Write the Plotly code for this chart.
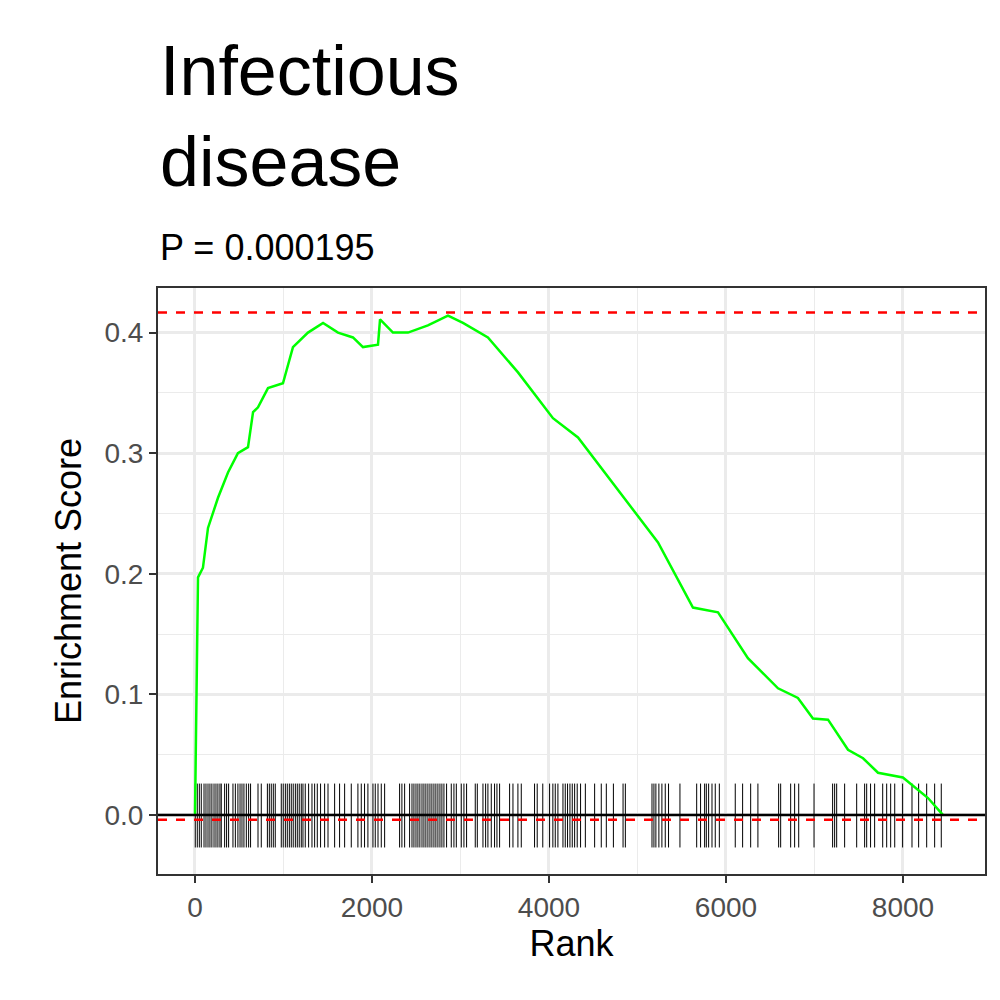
import plotly.graph_objects as go

# running enrichment score
curve_rank = [0, 34, 90, 147, 260, 373, 485, 599, 656, 712, 825, 994, 1107, 1277,
              1447, 1616, 1785, 1898, 2068, 2091, 2237, 2407, 2632, 2859, 3028, 3310,
              3650, 4045, 4328, 4893, 5232, 5627, 5910, 6248, 6588, 6813, 6983, 7153,
              7379, 7549, 7718, 7999, 8283, 8451]
curve_es = [0.0, 0.197, 0.205, 0.238, 0.263, 0.284, 0.300, 0.305, 0.334, 0.338, 0.354,
            0.358, 0.388, 0.400, 0.408, 0.400, 0.396, 0.388, 0.390, 0.411, 0.400, 0.400,
            0.406, 0.414, 0.408, 0.396, 0.367, 0.329, 0.313, 0.259, 0.226, 0.172, 0.168,
            0.130, 0.105, 0.097, 0.080, 0.079, 0.054, 0.047, 0.035, 0.031, 0.014, 0.0]

# gene set hit positions
hits = [3, 26, 49, 71, 102, 124, 147, 169, 191, 215, 237, 259, 282, 297, 335, 357, 380,
        429, 456, 485, 509, 531, 553, 580, 606, 628, 712, 749, 818, 840, 862, 885, 907,
        975, 997, 1021, 1043, 1066, 1088, 1110, 1134, 1156, 1178, 1201, 1220, 1246, 1284,
        1322, 1352, 1382, 1419, 1465, 1503, 1578, 1634, 1691, 1766, 1841, 1879, 1916,
        1954, 2011, 2037, 2068, 2105, 2143, 2312, 2338, 2369, 2425, 2452, 2474, 2497,
        2519, 2541, 2565, 2587, 2609, 2632, 2655, 2677, 2700, 2722, 2745, 2768, 2790,
        2813, 2843, 2896, 2926, 2953, 3009, 3039, 3069, 3167, 3190, 3254, 3284, 3310,
        3348, 3385, 3412, 3442, 3555, 3593, 3649, 3687, 3837, 3867, 3930, 4007, 4044,
        4071, 4101, 4158, 4184, 4210, 4237, 4263, 4290, 4319, 4357, 4411, 4516, 4591,
        4648, 4728, 4837, 4863, 5164, 5186, 5208, 5242, 5276, 5314, 5351, 5480, 5669,
        5713, 5759, 5778, 5804, 5842, 5879, 5925, 6105, 6188, 6279, 6361, 6595, 6618,
        6731, 6776, 6822, 6995, 7205, 7228, 7251, 7341, 7477, 7567, 7590, 7634, 7680,
        7771, 7816, 7861, 7907, 7996, 8102, 8177, 8268, 8358, 8433]

es_max = 0.4166
es_min = -0.004
rug_top, rug_bottom = 0.026, -0.027

rug_x, rug_y = [], []
for h in hits:
    rug_x += [h, h, None]
    rug_y += [rug_bottom, rug_top, None]

fig = go.Figure()
fig.add_trace(go.Scatter(x=rug_x, y=rug_y, mode="lines",
                         line=dict(color="black", width=1), hoverinfo="skip"))
fig.add_hline(y=0, line=dict(color="black", width=2.5))
fig.add_hline(y=es_min, line=dict(color="red", width=2.5, dash="dash"))
fig.add_hline(y=es_max, line=dict(color="red", width=2.5, dash="dash"))
fig.add_trace(go.Scatter(x=curve_rank, y=curve_es, mode="lines",
                         line=dict(color="#00ff00", width=2.5)))

font = "Liberation Sans, Arial, sans-serif"
axis_common = dict(
    tickfont=dict(size=28, color="#4d4d4d"), ticks="outside",
    ticklen=7, tickcolor="#333333", tickwidth=2,
    gridcolor="#ebebeb", gridwidth=2.5,
    showline=True, mirror=True, linecolor="#333333", linewidth=2,
    zeroline=False,
)
fig.update_layout(
    width=1000, height=1000,
    showlegend=False,
    plot_bgcolor="white", paper_bgcolor="white",
    margin=dict(l=150, r=23, t=280, b=134),
    font=dict(family=font, color="black"),
    xaxis=dict(range=[-418, 8927], tickvals=[0, 2000, 4000, 6000, 8000],
               minor=dict(tickvals=[1000, 3000, 5000, 7000], gridcolor="#ebebeb",
                          gridwidth=1.2, ticks=""),
               title=dict(text="Rank", font=dict(size=36), standoff=8),
               **axis_common),
    yaxis=dict(range=[-0.049, 0.437], tickvals=[0, 0.1, 0.2, 0.3, 0.4],
               ticktext=["0.0", "0.1", "0.2", "0.3", "0.4"],
               minor=dict(tickvals=[-0.05, 0.05, 0.15, 0.25, 0.35], gridcolor="#ebebeb",
                          gridwidth=1.2, ticks=""),
               title=dict(text="Enrichment Score", font=dict(size=36), standoff=12),
               **axis_common),
    annotations=[
        dict(text="Infectious<br>disease", x=0, y=1.44, xref="paper", yref="paper",
             xanchor="left", yanchor="top", showarrow=False, align="left",
             font=dict(size=70, family=font)),
        dict(text="P = 0.000195", x=0, y=1.03, xref="paper", yref="paper",
             xanchor="left", yanchor="bottom", showarrow=False,
             font=dict(size=36, family=font)),
    ],
)
fig.write_html("out.html")
